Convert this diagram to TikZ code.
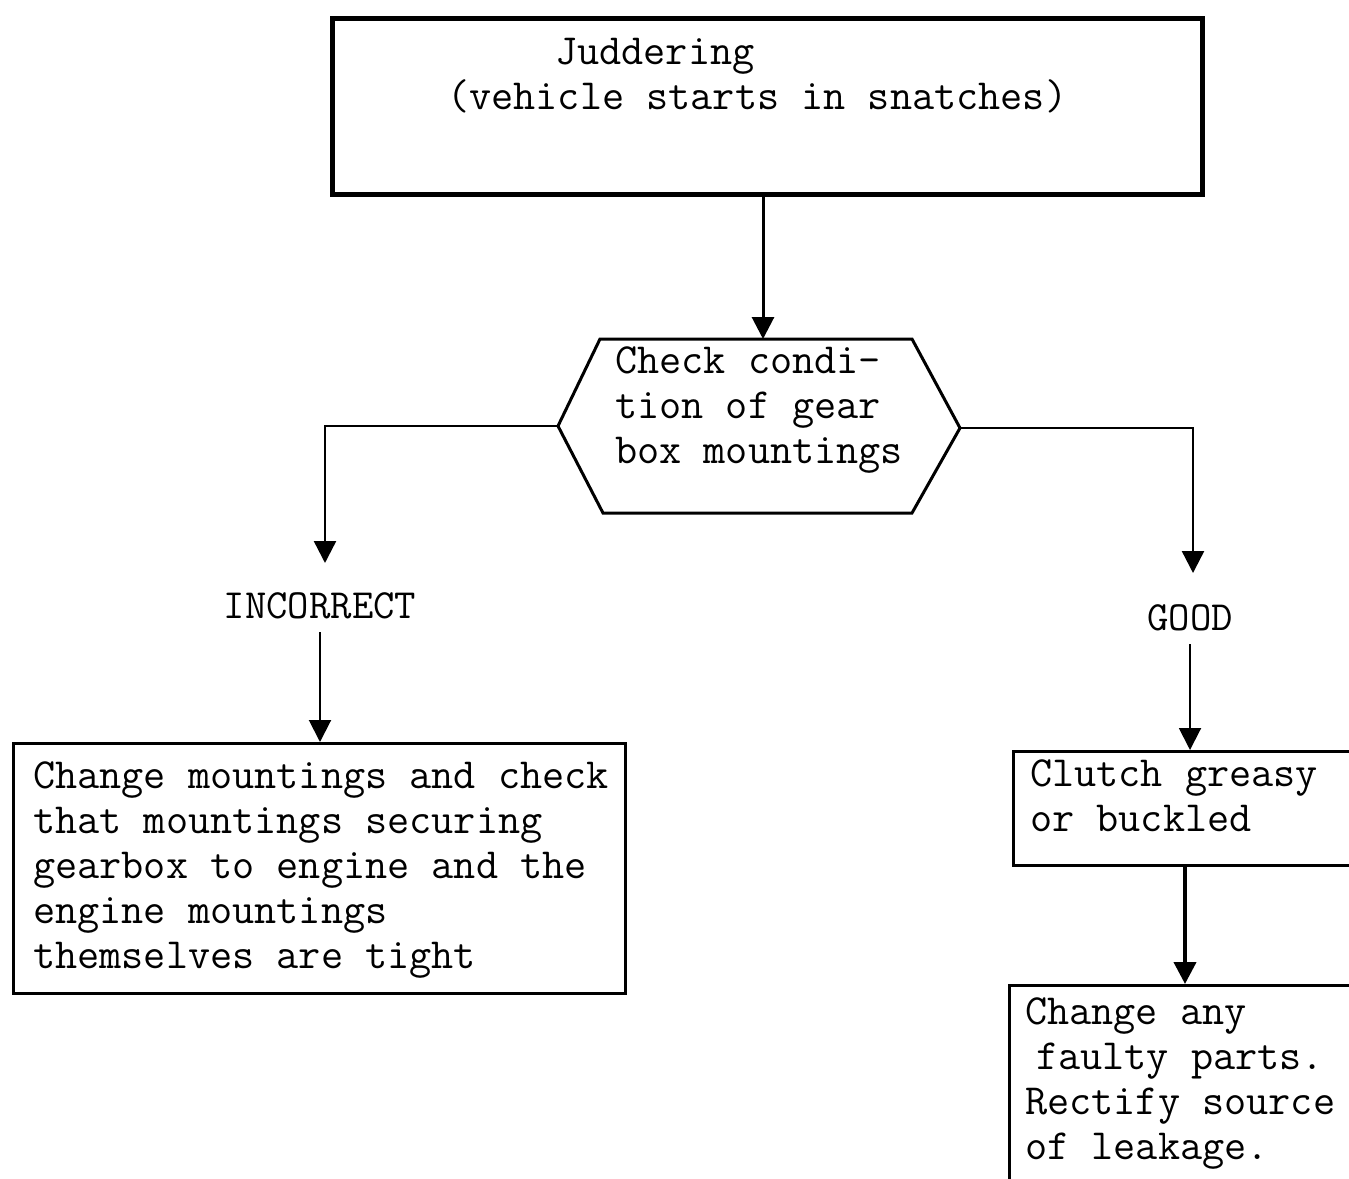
\documentclass[tikz,border=0pt]{standalone}
\usetikzlibrary{arrows.meta}
\begin{document}
\begin{tikzpicture}[x=1pt,y=-1pt,
  txt/.style={font=\ttfamily\fontsize{43}{45}\selectfont, inner sep=0pt, align=left, anchor=west},
  lbl/.style={font=\ttfamily\fontsize{41.5}{44}\selectfont, inner sep=0pt},
  boxshape/.style={draw, line width=2.8pt, inner sep=0pt, anchor=north west},
  arr/.style={-{Triangle[width=22pt,length=22pt]}, line width=2.4pt},
  link/.style={line width=3pt}
]
\useasboundingbox (0,0) rectangle (1349,1178);
\clip (0,0) rectangle (1349,1178);

% boxes
\node[boxshape, line width=4.5pt, minimum width=870pt, minimum height=176pt] (top) at (330,16) {};
\node[boxshape, minimum width=612pt, minimum height=250pt] (lbox) at (12,742) {};
\node[boxshape, line width=3.2pt, minimum width=420pt, minimum height=114pt] (rb1) at (1012,750) {};
\node[boxshape, line width=3.2pt, minimum width=420pt, minimum height=260pt] (rb2) at (1008,984) {};

% hexagon
\coordinate (hexL) at (558,426);
\coordinate (hexR) at (960,428);
\coordinate (hexT) at (763,339);
\draw[link, line join=miter] (hexL) -- (600,339) -- (912,339) -- (hexR) -- (912,513) -- (603,513) -- cycle;

% texts
\node[txt] (toptext) at (447,76) {\hspace*{108pt}Juddering\\(vehicle starts in snatches)};
\node[txt] (hextext) at (615,410) {Check condi-\\tion of gear\\box mountings};
\node[txt] (ltext) at (33,870) {Change mountings and check\\that mountings securing\\gearbox to engine and the\\engine mountings\\themselves are tight};
\node[txt] (r1text) at (1030,796) {Clutch greasy\\or buckled};
\node[txt] (r2text) at (1025,1084) {Change any\\\hspace*{11pt}faulty parts.\\Rectify source\\of leakage.};
\node[lbl] (incorrect) at (320,606) {INCORRECT};
\node[lbl] (good) at (1190,618) {GOOD};

% connectors
\coordinate (cL) at (325,563);
\coordinate (cR) at (1193,573);
\coordinate (c3) at (1185,0);
\draw[arr, line width=3pt] (top.south -| hexT) -- (hexT);
\draw[arr] (hexL) -| (cL);
\draw[arr] (hexR) -| (cR);
\draw[arr, line width=2pt, shorten <=13pt] (incorrect.south) -- (incorrect.south |- lbox.north);
\draw[arr, line width=2pt, shorten <=13pt] (good.south) -- (good.south |- rb1.north);
\draw[arr, line width=4pt] (rb1.south -| c3) -- (rb2.north -| c3);
\end{tikzpicture}
\end{document}
